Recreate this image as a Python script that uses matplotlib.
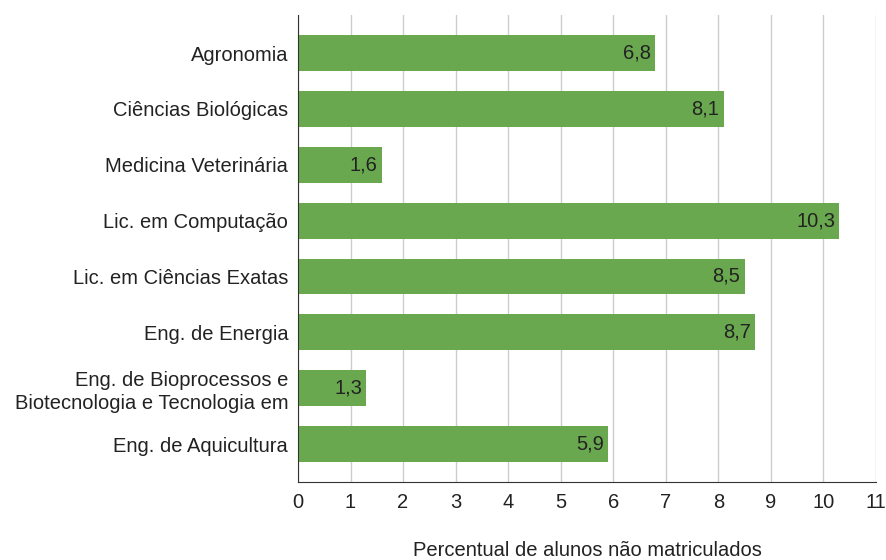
import matplotlib.pyplot as plt

plt.rcParams['font.family'] = ['Liberation Sans', 'DejaVu Sans']

cursos = ["Agronomia", "Ciências Biológicas", "Medicina Veterinária",
          "Lic. em Computação", "Lic. em Ciências Exatas", "Eng. de Energia",
          "Eng. de Bioprocessos e\nBiotecnologia e Tecnologia em",
          "Eng. de Aquicultura"]
percentual = [6.8, 8.1, 1.6, 10.3, 8.5, 8.7, 1.3, 5.9]

FS = 14.5

fig = plt.figure(figsize=(8.86, 5.6), dpi=100)
ax = fig.add_axes([0.3363, 0.1393, 0.6524, 0.8337])

pos = list(range(len(cursos)))
bars = ax.barh(pos, percentual, height=0.64, color='#6aa84f', zorder=3)

for b, v in zip(bars, percentual):
    ax.annotate(f'{v:.1f}'.replace('.', ','), (v, b.get_y() + b.get_height() / 2),
                xytext=(-3, 0), textcoords='offset points',
                ha='right', va='center', fontsize=FS, color='#222222', zorder=4)

ax.set_yticks(pos)
ax.set_yticklabels(cursos, fontsize=FS, color='#222222', linespacing=1.25)
ax.set_ylim(7.68, -0.68)
ax.set_xlim(0, 11)
ax.set_xticks(range(12))
ax.tick_params(axis='x', labelsize=FS, labelcolor='#222222', length=0, pad=8)
ax.tick_params(axis='y', length=0, pad=7)
ax.grid(axis='x', color='#cccccc', linewidth=1, zorder=0)

for s in ['top', 'right']:
    ax.spines[s].set_visible(False)
ax.spines['left'].set_color('#333333')
ax.spines['bottom'].set_color('#333333')
ax.spines['left'].set_zorder(5)

ax.set_xlabel("Percentual de alunos não matriculados", fontsize=FS,
              color='#222222', labelpad=21)

plt.savefig('out.png', dpi=100)
